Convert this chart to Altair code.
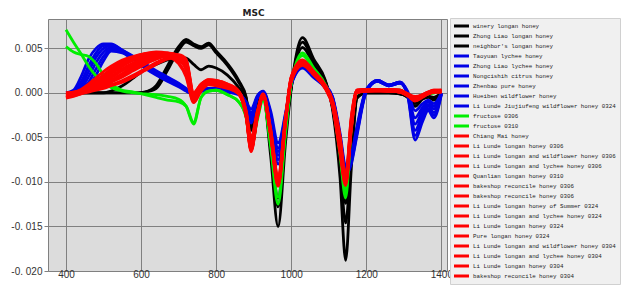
import altair as alt
import pandas as pd

# wavenumber grid (x) shared by all series
X = [400, 420, 440, 460, 480, 500, 520, 550, 580, 610, 640, 670, 700, 720, 740, 760,
     780, 800, 830, 860, 880, 893, 910, 925, 945, 965, 985, 1000, 1030, 1060, 1090,
     1110, 1130, 1145, 1160, 1175, 1200, 1230, 1260, 1290, 1310, 1330, 1350, 1365, 1380, 1400]

# series values, in units of 1e-4
K1 = [0,0,0,0,0,0,0,0,0,1,8,30,52,60,55,52,56,47,33,14,-5,-42,-12,-3,-70,-150,-55,5,62,38,15,-18,-95,-188,-85,-6,0,0,0,-1,-5,-15,-7,-5,-8,0]
K2 = [0,0,0,0,0,0,0,0,0,1,5,25,48,57,53,50,54,45,31,12,-6,-40,-12,-3,-62,-128,-45,6,57,35,14,-16,-80,-146,-70,-5,0,0,0,-1,-4,-12,-6,-4,-6,0]
K3 = [0,0,0,0,0,0,2,8,17,26,32,37,40,39,32,26,30,28,20,6,-8,-38,-10,-3,-58,-118,-42,6,51,32,13,-15,-72,-124,-62,-5,0,0,0,-1,-4,-11,-5,-4,-5,0]

B1 = [0,3,18,38,50,55,55,48,41,33,25,18,11,5,-1,3,5,5,3,0,-10,-18,-3,2,-20,-56,-22,12,31,20,9,-4,-45,-82,-70,-38,4,14,9,12,2,-20,-12,-8,-12,0]
B2 = [0,2,12,30,45,53,54,48,40,32,24,17,10,4,-1,3,5,4,3,0,-11,-22,-4,1,-23,-62,-24,11,30,19,8,-5,-48,-85,-72,-40,3,14,9,12,0,-28,-16,-10,-15,0]
B3 = [0,1,8,24,40,50,53,47,39,31,23,16,9,4,-1,2,4,4,2,-1,-12,-25,-4,1,-25,-66,-26,11,30,19,8,-5,-50,-87,-74,-42,3,13,8,11,0,-35,-20,-13,-18,-1]
B4 = [0,1,5,18,34,46,51,46,38,30,22,15,9,3,-2,2,4,3,2,-1,-13,-28,-5,0,-27,-70,-27,10,29,18,7,-6,-52,-89,-76,-44,2,13,8,11,-1,-42,-24,-15,-22,-1]
B5 = [0,0,3,12,27,41,49,46,38,29,21,14,8,3,-2,2,4,3,2,-1,-14,-31,-5,0,-29,-75,-29,10,29,18,7,-7,-54,-90,-78,-46,2,14,9,12,-2,-48,-28,-18,-25,-1]
B6 = [0,0,2,8,20,36,47,45,37,28,20,13,7,2,-2,2,3,3,1,-2,-15,-34,-6,-1,-31,-80,-30,9,28,17,6,-8,-56,-92,-80,-48,1,13,8,11,-3,-53,-32,-20,-28,-2]

G1 = [71,57,44,30,19,12,6,2,0,-1,-2,-4,-7,-15,-35,-5,2,3,-2,-10,-28,-62,-30,-8,-60,-125,-45,10,45,28,10,-12,-70,-118,-40,0,3,3,3,3,-2,-6,-3,-1,0,2]
G2 = [52,46,43,41,33,20,10,3,1,-2,-5,-8,-10,-15,-33,-5,2,3,-2,-10,-27,-58,-28,-7,-56,-117,-42,11,42,26,9,-12,-66,-112,-38,0,3,3,3,3,-2,-6,-3,-1,0,2]

R1 = [-2,0,4,10,17,24,30,37,41,44,45,43,38,28,-5,6,13,12,8,1,-24,-60,-24,-3,-44,-98,-30,16,35,22,7,-11,-58,-99,-34,2,3,3,3,2,-2,-7,-3,0,2,2]
R2 = [-5,-3,2,7,13,19,26,34,40,44,46,45,40,30,-8,5,11,10,7,0,-26,-64,-26,-4,-46,-102,-31,14,33,21,6,-13,-62,-101,-37,1,2,3,2,1,-3,-8,-4,-1,1,2]
R3 = [0,1,3,6,10,15,21,30,37,42,45,44,40,32,-3,8,13,12,9,1,-22,-55,-22,-2,-42,-96,-28,17,36,23,8,-10,-55,-96,-30,3,4,4,4,3,-1,-5,-2,1,2,3]
R4 = [-3,-2,0,3,7,12,18,27,34,40,44,45,42,35,-2,9,14,13,9,1,-23,-58,-23,-2,-43,-97,-29,16,35,23,8,-10,-57,-98,-33,2,3,4,3,2,-2,-6,-3,0,2,2]
R5 = [-6,-4,-1,2,5,9,14,22,30,37,42,44,43,38,0,10,15,14,10,2,-21,-52,-21,-1,-40,-94,-27,18,37,24,9,-9,-50,-94,-28,3,4,4,4,3,-1,-5,-2,1,3,3]
R6 = [-1,0,2,4,7,10,14,20,27,33,38,41,40,33,-6,6,11,10,7,0,-25,-63,-25,-3,-45,-101,-30,15,34,22,7,-12,-61,-100,-36,2,3,3,3,2,-2,-7,-3,0,2,2]
R7 = [-2,-1,1,3,5,8,12,18,25,32,38,42,42,36,-4,8,13,12,8,0,-24,-61,-24,-3,-44,-99,-30,15,34,22,7,-11,-59,-99,-35,2,3,3,3,2,-2,-7,-3,0,2,2]
R8 = [-4,-2,0,2,4,6,9,14,20,27,34,39,40,34,-3,7,12,11,8,0,-25,-62,-25,-3,-46,-103,-32,14,33,21,6,-13,-64,-102,-38,1,2,3,2,1,-3,-8,-4,-1,1,1]
R9 = [0,0,1,3,6,9,13,20,28,35,40,42,38,26,-9,4,10,9,6,-1,-27,-65,-27,-4,-47,-104,-32,13,32,21,6,-14,-66,-103,-40,1,2,2,2,1,-3,-9,-4,-1,1,1]
R10 = [-3,-1,2,6,11,16,22,31,38,43,45,42,34,20,-10,3,10,9,6,-1,-26,-64,-26,-4,-46,-102,-31,14,33,21,6,-13,-63,-101,-38,1,2,3,2,1,-3,-8,-4,-1,1,2]
R11 = [-1,0,2,5,9,13,18,26,33,39,43,44,41,31,-7,5,12,11,8,0,-24,-60,-24,-3,-44,-99,-29,15,34,22,7,-12,-60,-99,-35,2,3,3,3,2,-2,-7,-3,0,2,2]
R12 = [-5,-3,-1,1,3,5,8,12,18,25,32,38,40,36,0,10,15,14,10,2,-20,-50,-20,-1,-40,-93,-26,18,36,24,9,-8,-48,-93,-27,3,4,4,4,3,-1,-4,-2,1,3,3]
R13 = [-2,0,3,8,14,20,27,35,40,43,44,41,33,18,-11,2,9,8,5,-1,-27,-66,-27,-4,-48,-105,-33,13,31,20,5,-15,-68,-104,-42,0,2,2,2,1,-3,-9,-5,-1,1,1]
R14 = [0,1,3,7,12,18,24,32,38,42,44,43,37,27,-6,6,12,11,8,0,-24,-61,-24,-3,-44,-100,-30,15,34,22,7,-12,-60,-100,-35,2,3,3,3,2,-2,-7,-3,0,2,2]
R15 = [-3,-2,1,4,8,12,17,25,32,38,42,43,39,30,-5,7,13,12,8,1,-23,-59,-23,-3,-43,-98,-29,16,35,23,7,-11,-58,-98,-33,2,3,3,3,2,-2,-6,-3,0,2,2]

NAMES = [
    "winery longan honey", "Zhong Liao longan honey", "neighbor's longan honey",
    "Taoyuan lychee honey", "Zhong Liao lychee honey", "Nongcishih citrus honey",
    "Zhenbao pure honey", "Hueiben wildflower honey", "Li Lunde Jiujiufeng wildflower honey 0324",
    "fructose 0306", "fructose 0310",
    "Chiang Mai honey", "Li Lunde longan honey 0306", "Li Lunde longan and wildflower honey 0306",
    "Li Lunde longan and lychee honey 0306", "Quanlian longan honey 0310",
    "bakeshop reconcile honey 0306", "bakeshop reconcile honey 0306 ",
    "Li Lunde longan honey of Summer 0324", "Li Lunde longan and lychee honey 0324",
    "Li Lunde longan honey 0324", "Pure longan honey 0324",
    "Li Lunde longan and wildflower honey 0304", "Li Lunde longan and lychee honey 0304",
    "Li Lunde longan honey 0304", "bakeshop reconcile honey 0304",
]
SERIES = [K1, K2, K3, B1, B2, B3, B4, B5, B6, G1, G2,
          R1, R2, R3, R4, R5, R6, R7, R8, R9, R10, R11, R12, R13, R14, R15]
GROUPS = ["black"] * 3 + ["blue"] * 6 + ["green"] * 2 + ["red"] * 15
GROUP_COLORS = {"black": "#000000", "blue": "#0000e6", "green": "#00ee00", "red": "#ff0000"}
COLORS = [GROUP_COLORS[g] for g in GROUPS]

rows = []
for name, grp, vals in zip(NAMES, GROUPS, SERIES):
    for xv, v in zip(X, vals):
        rows.append({"x": xv, "y": v / 10000.0, "series": name, "group": grp})
df = pd.DataFrame(rows)

color = alt.Color(
    "series:N",
    scale=alt.Scale(domain=NAMES, range=COLORS),
    legend=alt.Legend(
        title=None, orient="none", legendX=402, legendY=-1,
        symbolType="M-6,0H6", symbolSize=9, symbolStrokeWidth=3,
        symbolOffset=3, labelFont="Liberation Mono", labelFontSize=5.8,
        labelOffset=10, rowPadding=2, clipHeight=8, padding=4, fillColor="#f0f0f0",
        strokeColor="#d0d0d0", labelLimit=300, labelColor="#222222",
    ),
)

x_enc = alt.X("x:Q", scale=alt.Scale(domain=[352, 1415], nice=False, zero=False),
              axis=alt.Axis(values=[400, 600, 800, 1000, 1200, 1400], title=None, format="d",
                            tickSize=0, labelPadding=-2))
y_enc = alt.Y("y:Q", scale=alt.Scale(domain=[-0.020, 0.0083], nice=False, zero=False),
              axis=alt.Axis(values=[-0.020, -0.015, -0.010, -0.005, 0.0, 0.005], title=None,
                            labelExpr="replace(replace(format(datum.value, '.3f'), '.', '. '), '\u2212', '-')"))

layers = []
for g in ["black", "blue", "green", "red"]:
    layers.append(
        alt.Chart(df[df["group"] == g]).mark_line(strokeWidth=2.8, interpolate="monotone", clip=True)
        .encode(x=x_enc, y=y_enc, color=color, detail="series:N")
    )

chart = alt.layer(*layers).properties(
    width=399, height=252,
    title=alt.TitleParams("MSC", fontSize=9, fontWeight="bold", font="DejaVu Sans",
                          offset=0, dx=6, color="#222222"),
    padding={"left": 2, "top": 0, "right": 0, "bottom": 0},
).configure_view(fill="#dcdcdc", stroke="#808080").configure_axis(
    grid=True, gridColor="#808080", gridOpacity=1, gridWidth=1, domain=False,
    tickColor="#808080", tickSize=4, labelPadding=2, labelColor="#333333", labelFontSize=10,
    labelFont="Liberation Sans",
)

chart.save("out.html", embed_options={"renderer": "svg", "actions": False})
